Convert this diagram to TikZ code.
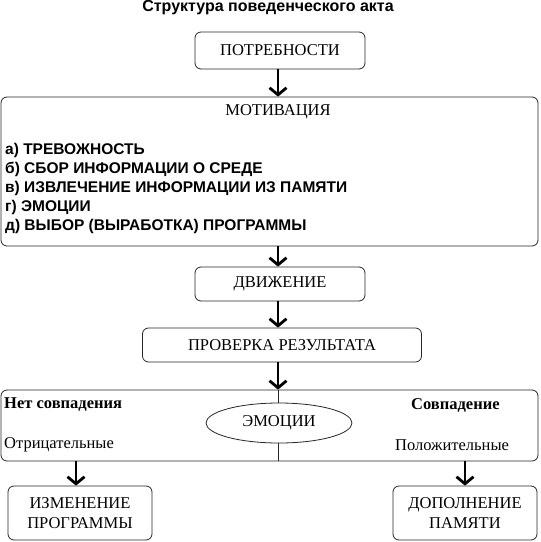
\documentclass[tikz,border=0pt]{standalone}
\usepackage{fontspec}
\setmainfont{Liberation Serif}
\setsansfont{Liberation Sans}
\usetikzlibrary{arrows.meta,shapes.geometric}

\tikzset{
  box/.style={draw=black!85, line width=0.8pt, rounded corners=6pt, inner sep=0pt,
    font=\fontsize{16.5}{20}\selectfont, align=center},
  flow/.style={-{Straight Barb[length=7pt,width=17pt]}, line width=2.8pt},
  item/.style={anchor=west, inner sep=0pt, font=\sffamily\bfseries\fontsize{15.5}{17}\selectfont},
  note/.style={anchor=west, inner sep=0pt, font=\fontsize{16.5}{18}\selectfont},
}

\begin{document}
\begin{tikzpicture}[x=1pt,y=-1pt]
    \useasboundingbox (0,0) rectangle (541,542);

    \node[font=\sffamily\bfseries\fontsize{16}{18}\selectfont] (title) at (268,8) {Структура поведенческого акта};

    \node[box, minimum width=170pt, minimum height=37pt] (need) at (280,50.5) {ПОТРЕБНОСТИ};

    \node[box, minimum width=537pt, minimum height=149pt] (motiv) at (269.5,171.5) {};
    \node[font=\fontsize{16.5}{18}\selectfont] (motivtitle) at (278,112) {МОТИВАЦИЯ};
    \node[item] (ma) at (5,150) {а) ТРЕВОЖНОСТЬ};
    \node[item] (mb) at (5,169) {б) СБОР ИНФОРМАЦИИ О СРЕДЕ};
    \node[item] (mc) at (5,188) {в) ИЗВЛЕЧЕНИЕ ИНФОРМАЦИИ ИЗ ПАМЯТИ};
    \node[item] (md) at (5,207) {г) ЭМОЦИИ};
    \node[item] (me) at (5,226) {д) ВЫБОР (ВЫРАБОТКА) ПРОГРАММЫ};

    \node[box, minimum width=170pt, minimum height=34pt] (move) at (280,284) {ДВИЖЕНИЕ};
    \node[box, minimum width=279pt, minimum height=34pt] (check) at (282,345) {ПРОВЕРКА РЕЗУЛЬТАТА};

    \node[box, minimum width=537pt, minimum height=71pt] (match) at (269.5,425.5) {};
    \node[draw=black!85, line width=0.8pt, ellipse, minimum width=146pt, minimum height=40pt,
      inner sep=0pt, font=\fontsize{16.5}{18}\selectfont] (emo) at (279,423) {ЭМОЦИИ};
    \node[note, font=\bfseries\fontsize{16.5}{18}\selectfont] (nomatch) at (4,405) {Нет совпадения};
    \node[note, font=\bfseries\fontsize{16.5}{18}\selectfont] (yesmatch) at (411,405) {Совпадение};
    \node[note] (neg) at (4,445) {Отрицательные};
    \node[note] (pos) at (395,445) {Положительные};

    \node[box, minimum width=144pt, minimum height=54pt] (change) at (80,513) {ИЗМЕНЕНИЕ\\ПРОГРАММЫ};
    \node[box, minimum width=144pt, minimum height=54pt] (memory) at (465,513) {ДОПОЛНЕНИЕ\\ПАМЯТИ};

    \draw[flow] ([xshift=-2pt]need.south) -- ([xshift=-2pt]need.south |- motiv.north);
    \draw[flow] (motivtitle.center |- motiv.south) -- (motivtitle.center |- move.north);
    \draw[flow] (motivtitle.center |- move.south) -- (motivtitle.center |- check.north);
    \draw[flow] (motivtitle.center |- check.south) -- (motivtitle.center |- match.north);

    \draw[black!85, line width=0.8pt] ([xshift=-1pt]emo.north) -- ([xshift=-1pt]emo.north |- match.north);
    \draw[black!85, line width=0.8pt] ([xshift=-1pt]emo.south) -- ([xshift=-1pt]emo.south |- match.south);

    \draw[flow] ([xshift=-4pt]change.north |- match.south) -- ([xshift=-4pt]change.north);
    \draw[flow] (memory.north |- match.south) -- (memory.north);
\end{tikzpicture}
\end{document}
